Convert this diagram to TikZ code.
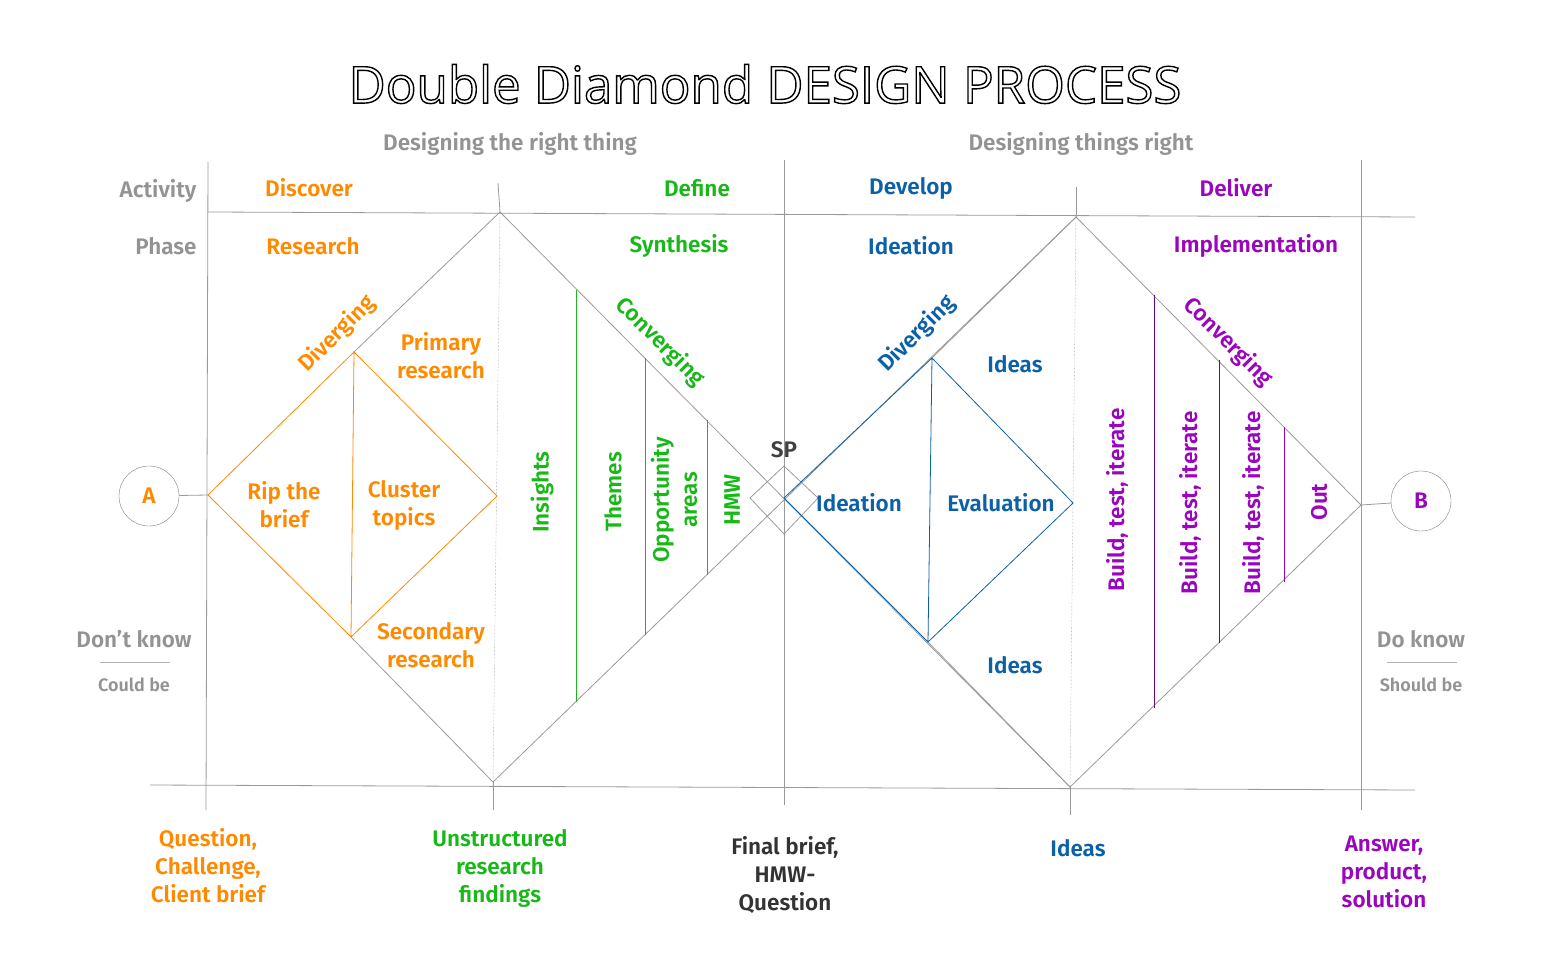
\documentclass[tikz,border=0pt]{standalone}
\usepackage{fontspec}
\setmainfont{Fira Sans}[BoldFont={Fira Sans SemiBold}]
\newfontfamily\titlefont{Open Sans}
\begin{document}
\begin{tikzpicture}[x=1pt,y=-1pt,
  lbl/.style={font=\bfseries\fontsize{22.5}{28}\selectfont,align=center,inner sep=0},
  gl/.style={draw=gray!80,line width=0.8pt},
  hd/.style={lbl,text=gray!85},
  org/.style={lbl,text=orange1}, grn/.style={lbl,text=green1},
  blu/.style={lbl,text=blue1}, pur/.style={lbl,text=purple1}]
\definecolor{orange1}{HTML}{FF8A00}
\definecolor{green1}{HTML}{18B818}
\definecolor{blue1}{HTML}{0B60A8}
\definecolor{purple1}{HTML}{9A05BE}
\useasboundingbox (0,0) rectangle (1541,955);
% coordinates
\coordinate (t1) at (500,212); \coordinate (b1) at (493,782);
\coordinate (c) at (784,498);
\coordinate (t2) at (1076,217); \coordinate (b2) at (1070,787);
\coordinate (L) at (208,495); \coordinate (R) at (1361,505);
\coordinate (ot) at (354,352); \coordinate (ob) at (351,637); \coordinate (or) at (497,496);
\coordinate (bt) at (932,358); \coordinate (bb) at (928,642); \coordinate (br) at (1073,503);
% grid
\draw[gl] (208,212) -- (1415,217);
\draw[gl] (150,785) -- (1415,790);
\draw[gl] (208,162) -- (206,810);
\draw[gl] (498,183) -- (t1); \draw[gray,densely dotted] (t1) -- (b1); \draw[gl] (b1) -- (493,810);
\draw[gl] (784,160) -- (784,805);
\draw[gl] (1076,187) -- (t2); \draw[gray,densely dotted] (t2) -- (b2); \draw[gl] (b2) -- (1070,815);
\draw[gl] (1361,160) -- (1361,810);
% diamonds
\draw[gl] (t1) -- (b2); \draw[gl] (b1) -- (t2);
\draw[gl] (t1) -- (ot); \draw[gl] (ob) -- (b1);
\draw[gl] (t2) -- (R) -- (b2);
\draw[gl] (784,466) -- (818,498) -- (784,534) -- (750,498) -- cycle;
\draw[orange1,line width=0.8pt] (L) -- (ot) -- (or) -- (ob) -- cycle (ot) -- (ob);
\draw[blue1,line width=0.8pt] (c) -- (bt) -- (br) -- (bb) -- cycle (bt) -- (bb);
\draw[gl] (bt) -- (t2); \draw[gl] (bb) -- (b2);
\draw[purple1!70!black,line width=0.8pt] (1154,295) -- (1154,708);
\draw[black!80,line width=0.8pt] (1219,360) -- (1219,643);
\draw[purple1,line width=0.8pt] (1284,427) -- (1284,582);
\draw[green1,line width=1pt] (576,290) -- (576,702);
\draw[green1,line width=1pt] (645.5,358) -- (645.5,635);
\draw[green1,line width=1pt] (707,420) -- (707,575);
% circles
\node[draw=gray,circle,minimum size=60pt,org,inner sep=0] (A) at (149,496) {A};
\node[draw=gray,circle,minimum size=60pt,pur,inner sep=0] (B) at (1421,501) {B};
\draw[gl] (A) -- (L); \draw[gl] (B) -- (R);
% title
\node[inner sep=0] (title) at (765,84) {\titlefont\fontsize{51}{56}\selectfont\special{pdf:literal direct 1 Tr 1.4 w}Double Diamond DESIGN PROCESS\special{pdf:literal direct 0 Tr}};
\node[hd] (h1) at (510,144) {Designing the right thing};
\node[hd] (h2) at (1081,144) {Designing things right};
\node[hd] (act) at (158,191) {Activity};
\node[hd] (ph) at (166,246) {Phase};
\node[hd] (dk) at (134,639) {Don’t know};
\node[lbl,text=gray!85,font=\bfseries\fontsize{18}{20}\selectfont] (cb) at (134,685) {Could be};
\draw[gray!60] (100,662) -- (170,662);
\node[hd] (dok) at (1421,639) {Do know};
\node[lbl,text=gray!85,font=\bfseries\fontsize{18}{20}\selectfont] (sb) at (1421,685) {Should be};
\draw[gray!60] (1387,662) -- (1457,662);
% phase labels
\node[org] (n1) at (309,188) {Discover};
\node[org] (n2) at (313,246) {Research};
\node[grn] (n3) at (697,188) {Define};
\node[grn] (n4) at (679,246) {Synthesis};
\node[blu] (n5) at (911,188) {Develop};
\node[blu] (n6) at (911,246) {Ideation};
\node[pur] (n7) at (1236,188) {Deliver};
\node[pur] (n8) at (1256,246) {Implementation};
% diamond 1 labels
\node[org,rotate=45] (dv1) at (337,334) {Diverging};
\node[org] (pr) at (441,356) {Primary\\research};
\node[org] (rb) at (284,505) {Rip the\\brief};
\node[org] (ct) at (404,505) {Cluster\\topics};
\node[org] (sr) at (431,645) {Secondary\\research};
\node[grn,rotate=-45] (cv1) at (660,342) {Converging};
\node[grn,rotate=90] (ins) at (542,492) {Insights};
\node[grn,rotate=90] (thm) at (613,492) {Themes};
\node[grn,rotate=90] (opp) at (674,500) {Opportunity\\areas};
\node[grn,rotate=90] (hmw) at (732,500) {HMW};
\node[lbl,text=black!75] (sp) at (784,450) {SP};
% diamond 2 labels
\node[blu,rotate=45] (dv2) at (917,334) {Diverging};
\node[blu] (id1) at (1015,364) {Ideas};
\node[blu] (ide) at (859,503) {Ideation};
\node[blu] (ev) at (1001,503) {Evaluation};
\node[blu] (id2) at (1015,665) {Ideas};
\node[pur,rotate=-45] (cv2) at (1228,342) {Converging};
\node[pur,rotate=90] (bt1) at (1117,500) {Build, test, iterate};
\node[pur,rotate=90] (bt2) at (1190,503) {Build, test, iterate};
\node[pur,rotate=90] (bt3) at (1253,503) {Build, test, iterate};
\node[pur,rotate=90] (out) at (1319,502) {Out};
% bottom
\node[org] (q) at (208,866) {Question,\\Challenge,\\Client brief};
\node[grn] (u) at (500,868) {Unstructured\\research\\findings};
\node[lbl,text=black!80] (f) at (785,875) {Final brief,\\HMW-\\Question};
\node[blu] (i) at (1078,848) {Ideas};
\node[pur] (ans) at (1384,872) {Answer,\\product,\\solution};
\end{tikzpicture}
\end{document}
